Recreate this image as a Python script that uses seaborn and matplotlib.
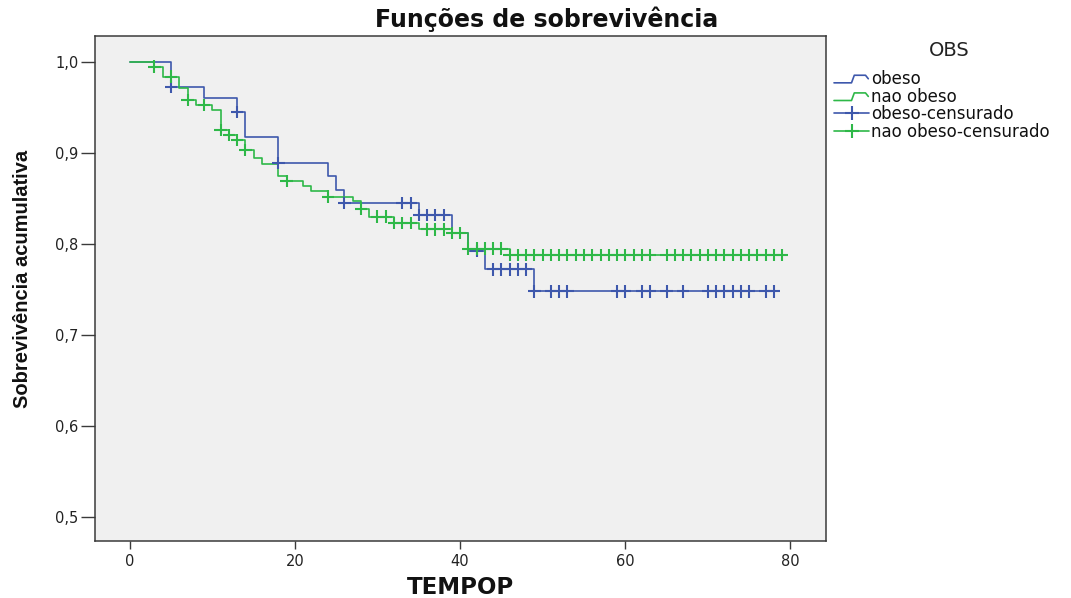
import numpy as np
import pandas as pd
import matplotlib
matplotlib.use("Agg")
import matplotlib.pyplot as plt
from matplotlib import font_manager
from matplotlib.lines import Line2D
from matplotlib.legend_handler import HandlerBase
import seaborn as sns

# ---------------- data ----------------
groups = ["obeso", "nao obeso"]

obeso_event_times = [5, 9, 13, 14, 18, 24, 25, 26, 35, 39, 41, 43, 49]
obeso_survival = [0.973, 0.960, 0.945, 0.918, 0.889, 0.875, 0.859, 0.845,
                  0.832, 0.812, 0.792, 0.772, 0.748]
obeso_censored = [5, 13, 18, 26, 33, 34, 35, 36, 37, 38, 42, 44, 45, 46, 47,
                  48, 49, 51, 52, 53, 59, 60, 62, 63, 65, 67, 70, 71, 72, 73,
                  74, 75, 77, 78]

nao_obeso_event_times = [3, 4, 6, 7, 8, 10, 11, 12, 13, 14, 15, 16, 18, 19,
                         21, 22, 24, 27, 28, 29, 32, 35, 39, 41, 46]
nao_obeso_survival = [0.995, 0.984, 0.971, 0.958, 0.953, 0.947, 0.925, 0.920,
                      0.914, 0.903, 0.894, 0.888, 0.875, 0.869, 0.864, 0.858,
                      0.852, 0.847, 0.839, 0.830, 0.823, 0.816, 0.812, 0.795,
                      0.788]
nao_obeso_censored = [3, 5, 7, 9, 11, 12, 13, 14, 19, 24, 28, 30, 31, 32, 33,
                      34, 36, 37, 38, 39, 40, 41, 42, 43, 44, 45, 46, 47, 48,
                      49, 50, 51, 52, 53, 54, 55, 56, 57, 58, 59, 60, 61, 62,
                      63, 65, 66, 67, 68, 69, 70, 71, 72, 73, 74, 75, 76, 77,
                      78, 79]

x_ticks = [0, 20, 40, 60, 80]
y_ticks = [0.5, 0.6, 0.7, 0.8, 0.9, 1.0]
y_tick_labels = ["0,5", "0,6", "0,7", "0,8", "0,9", "1,0"]

title = "Funções de sobrevivência"
x_label = "TEMPOP"
y_label = "Sobrevivência acumulativa"
legend_title = "OBS"
legend_labels = ["obeso", "nao obeso", "obeso-censurado", "nao obeso-censurado"]

# ---------------- build tables ----------------
def km_table(name, times, surv, cens):
    end = max(max(cens), max(times))
    t = [0.0] + list(times) + [end]
    s = [1.0] + list(surv) + [surv[-1]]
    steps = pd.DataFrame({"tempo": t, "surv": s, "grupo": name})
    idx = np.searchsorted(np.array(t[:-1]), np.array(cens), side="right") - 1
    cy = np.array(s[:-1])[idx]
    cdf = pd.DataFrame({"tempo": cens, "surv": cy, "grupo": name})
    return steps, cdf

s1, c1 = km_table(groups[0], obeso_event_times, obeso_survival, obeso_censored)
s2, c2 = km_table(groups[1], nao_obeso_event_times, nao_obeso_survival, nao_obeso_censored)
steps = pd.concat([s1, s2], ignore_index=True)
cens = pd.concat([c1, c2], ignore_index=True)

# ---------------- style ----------------
sns.set_theme(style="ticks")
plt.rcParams["font.family"] = ["DejaVu Sans"]
available = {f.name for f in font_manager.fontManager.ttflist}
if "Liberation Sans Narrow" in available:
    ylab_family, ylab_size = "Liberation Sans Narrow", 17.5
else:
    ylab_family, ylab_size = "Liberation Sans", 14.5

blue = "#3E58AC"
green = "#2EB848"
palette = {groups[0]: blue, groups[1]: green}
edge = "#3a3a3a"

W, H = 1071, 598
fig = plt.figure(figsize=(W / 100, H / 100), dpi=100)
fig.patch.set_facecolor("white")
L, R, T, B = 95, 826, 36, 541
ax = fig.add_axes([L / W, 1 - B / H, (R - L) / W, (B - T) / H])
ax.set_facecolor("#F0F0F0")

sns.lineplot(data=steps, x="tempo", y="surv", hue="grupo", palette=palette,
             estimator=None, sort=False, drawstyle="steps-post", lw=1.2,
             legend=False, ax=ax)
sns.scatterplot(data=cens, x="tempo", y="surv", hue="grupo", palette=palette,
                marker="+", s=80, linewidth=1.5, legend=False, ax=ax, zorder=3)

ax.set_xlim(-4.2, 84.3)
ax.set_ylim(0.4736, 1.0286)
ax.set_xticks(x_ticks)
ax.set_xticklabels([str(v) for v in x_ticks])
ax.set_yticks(y_ticks)
ax.set_yticklabels(y_tick_labels)

for sp in ax.spines.values():
    sp.set_visible(True)
    sp.set_color(edge)
    sp.set_linewidth(1.1)
ax.tick_params(axis="y", length=10, width=1, color=edge, pad=2, labelsize=10.5,
               labelcolor="#222222")
ax.tick_params(axis="x", length=6, width=1, color=edge, pad=3, labelsize=10.5,
               labelcolor="#222222")

ax.set_xlabel(x_label, fontsize=16.5, fontweight="bold", color="#111111")
ax.xaxis.set_label_coords(0.5, -(588 - B) / (B - T))
ax.xaxis.label.set_va("center")
ax.set_ylabel(y_label, fontsize=ylab_size, fontweight="bold",
              family=ylab_family, color="#111111")
ax.yaxis.set_label_coords((23 - L) / (R - L), (B - 279) / (B - T))
ax.yaxis.label.set_va("center")

ax.set_title(title, fontsize=17, fontweight="bold", color="#111111",
             x=(547 - L) / (R - L), y=1 + (T - 19) / (B - T), va="center", pad=0)

# ---------------- legend ----------------
class StepHandler(HandlerBase):
    def create_artists(self, legend, orig_handle, xdescent, ydescent, width,
                       height, fontsize, trans):
        x0, y0 = -xdescent, -ydescent
        xs = [x0, x0 + 0.5 * width, x0 + 0.58 * width, x0 + 0.9 * width,
              x0 + 0.98 * width]
        ys = [y0 + 0.1 * height, y0 + 0.1 * height, y0 + 0.75 * height,
              y0 + 0.75 * height, y0 + 0.45 * height]
        ln = Line2D(xs, ys, color=orig_handle.get_color(),
                    lw=orig_handle.get_linewidth(), transform=trans)
        return [ln]

fig.text(949 / W, 1 - 50 / H, legend_title, ha="center", va="center",
         fontsize=14, color="#222222")

h_ob = Line2D([], [], color=blue, lw=1.2)
h_nob = Line2D([], [], color=green, lw=1.2)
h_obc = Line2D([], [], color=blue, lw=1.2, marker="+", markersize=10, mew=1.5)
h_nobc = Line2D([], [], color=green, lw=1.2, marker="+", markersize=10, mew=1.5)
leg = ax.legend([h_ob, h_nob, h_obc, h_nobc], legend_labels,
                handler_map={h_ob: StepHandler(), h_nob: StepHandler()},
                loc="upper left", bbox_to_anchor=(834 / W, 1 - 70 / H),
                bbox_transform=fig.transFigure, frameon=False, fontsize=12,
                handlelength=2.1, handletextpad=0.12, labelspacing=-0.02,
                borderpad=0, borderaxespad=0)
for t in leg.get_texts():
    t.set_color("#111111")

fig.savefig("out.png", dpi=100, facecolor="white")
